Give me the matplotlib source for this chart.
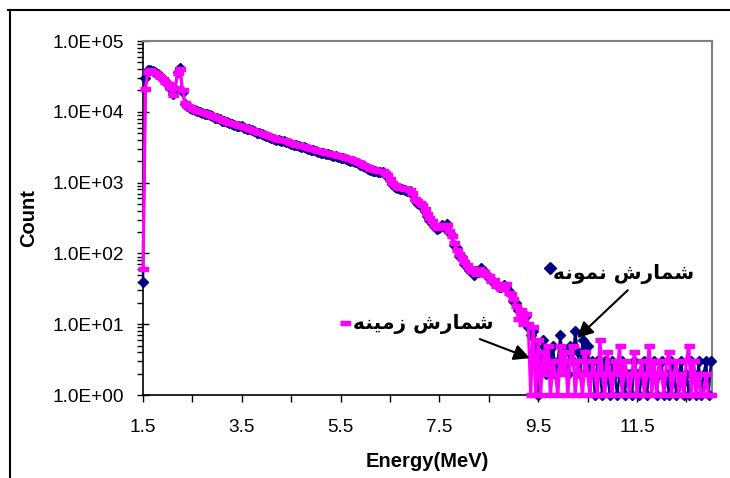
import numpy as np
import matplotlib
matplotlib.use("Agg")
import matplotlib.pyplot as plt
from matplotlib.lines import Line2D
from matplotlib.ticker import FixedLocator, LogLocator, NullFormatter

plt.rcParams['font.family'] = ['Liberation Sans', 'DejaVu Sans']

# channel energies (MeV), 0.05 MeV per channel from 1.5 to 13.0
energy = np.round(np.arange(1.5, 13.001, 0.05), 2)

# sample count (blue diamonds)
sample_count = [
    40, 30000, 39000, 39000, 37500, 36000, 34000, 32000, 29500, 27000,     # 1.50
    25000, 22000, 18000, 21000, 36000, 41000, 19000, 13000, 12000, 11500,  # 2.00
    11000, 10600, 10200, 9900, 9700, 9400, 9200, 8900, 8600, 8300,         # 2.50
    8100, 7800, 7500, 7300, 7100, 6900, 6800, 6600, 6400, 6300,            # 3.00
    6200, 6000, 5800, 5700, 5500, 5300, 5100, 5000, 4850, 4700,            # 3.50
    4550, 4400, 4250, 4100, 4050, 3950, 3900, 3850, 3800, 3650,            # 4.00
    3500, 3450, 3350, 3300, 3200, 3150, 3050, 2950, 2900, 2850,            # 4.50
    2800, 2700, 2650, 2600, 2550, 2500, 2450, 2400, 2350, 2300,            # 5.00
    2250, 2200, 2150, 2100, 2050, 2000, 1950, 1880, 1800, 1720,            # 5.50
    1650, 1580, 1520, 1480, 1440, 1420, 1400, 1390, 1320, 1230,            # 6.00
    1080, 950, 880, 840, 820, 800, 780, 770, 760, 680,                     # 6.50
    560, 520, 490, 460, 400, 340, 300, 270, 240, 220,                      # 7.00
    225, 250, 235, 260, 200, 180, 130, 118, 92, 90,                        # 7.50
    70, 66, 58, 56, 50, 57, 55, 62, 56, 52,                                # 8.00
    45, 44, 38, 37, 33, 34, 36, 34, 29, 27,                                # 8.50
    21, 20, 16, 15, 12, 13, 9, 7, 8, 5,                                    # 9.00
    1, 3, 6, 2, 4, 3, 5, 2, 3, 7,                                          # 9.50
    3, 4, 2, 5, 3, 8, 4, 2, 6, 3,                                          # 10.00
    5, 2, 3, 1, 3, 2, 1, 3, 2, 1,                                          # 10.50
    3, 2, 1, 2, 3, 1, 2, 2, 1, 3,                                          # 11.00
    2, 1, 2, 3, 1, 2, 2, 3, 1, 2,                                          # 11.50
    3, 1, 2, 1, 3, 2, 1, 2, 3, 1,                                          # 12.00
    2, 1, 3, 2, 1, 3, 1, 2, 3, 1,                                          # 12.50
    3,                                                                     # 13.00
]

# background count (magenta)
background_count = [
    60, 21000, 37000, 38500, 37000, 35500, 33500, 31500, 29000, 26500,     # 1.50
    24500, 21500, 17500, 22000, 35000, 40000, 20000, 13500, 12200, 11600,  # 2.00
    11100, 10700, 10300, 10000, 9800, 9500, 9300, 9000, 8700, 8400,        # 2.50
    8200, 7900, 7600, 7400, 7200, 7000, 6900, 6700, 6500, 6400,            # 3.00
    6300, 6100, 5900, 5800, 5600, 5400, 5200, 5100, 4950, 4800,            # 3.50
    4650, 4500, 4350, 4200, 4150, 4050, 4000, 3950, 3900, 3750,            # 4.00
    3600, 3550, 3450, 3400, 3300, 3250, 3150, 3050, 3000, 2950,            # 4.50
    2900, 2800, 2750, 2700, 2650, 2600, 2550, 2500, 2450, 2400,            # 5.00
    2350, 2300, 2250, 2200, 2150, 2100, 2050, 1980, 1900, 1800,            # 5.50
    1720, 1650, 1580, 1540, 1500, 1480, 1460, 1440, 1380, 1280,            # 6.00
    1120, 990, 910, 870, 850, 830, 810, 800, 790, 710,                     # 6.50
    590, 545, 510, 480, 420, 355, 315, 285, 250, 230,                      # 7.00
    235, 240, 255, 250, 210, 175, 140, 112, 98, 86,                        # 7.50
    76, 68, 62, 57, 54, 52, 60, 57, 54, 50,                                # 8.00
    48, 41, 42, 35, 36, 31, 34, 37, 28, 27,                                # 8.50
    23, 18, 12, 16, 10, 14, 10, 1, 9, 1,                                   # 9.00
    6, 1, 4, 2, 5, 1, 3, 2, 1, 5,                                          # 9.50
    2, 4, 1, 3, 5, 1, 3, 2, 1, 4,                                          # 10.00
    2, 1, 3, 2, 1, 6, 2, 1, 4, 2,                                          # 10.50
    1, 3, 2, 5, 1, 3, 2, 1, 2, 4,                                          # 11.00
    1, 2, 3, 1, 2, 5, 1, 3, 1, 3,                                          # 11.50
    2, 1, 3, 4, 1, 2, 3, 1, 2, 1,                                          # 12.00
    3, 5, 1, 3, 1, 2, 1, 1, 2, 1,                                          # 12.50
    1,                                                                     # 13.00
]

x_ticks = [1.5, 3.5, 5.5, 7.5, 9.5, 11.5]
x_minor = [2.5, 4.5, 6.5, 8.5, 10.5, 12.5]
y_ticks = [1, 10, 100, 1000, 10000, 100000]
y_labels = ['1.0E+00', '1.0E+01', '1.0E+02', '1.0E+03', '1.0E+04', '1.0E+05']

sample_label = 'شمارش نمونه'
background_label = 'شمارش زمینه'

# Arabic presentation forms: isolated, final, initial, medial
FORMS = {
    'ش': ('\uFEB5', '\uFEB6', '\uFEB7', '\uFEB8'),
    'م': ('\uFEE1', '\uFEE2', '\uFEE3', '\uFEE4'),
    'ا': ('\uFE8D', '\uFE8E', None, None),
    'ر': ('\uFEAD', '\uFEAE', None, None),
    'ز': ('\uFEAF', '\uFEB0', None, None),
    'و': ('\uFEED', '\uFEEE', None, None),
    'ن': ('\uFEE5', '\uFEE6', '\uFEE7', '\uFEE8'),
    'ه': ('\uFEE9', '\uFEEA', '\uFEEB', '\uFEEC'),
    'ی': ('\uFBFC', '\uFBFD', '\uFEF3', '\uFEF4'),
}


def shape(text):
    """join the letters by hand and flip to visual order (no bidi in matplotlib)"""
    out = []
    for i, ch in enumerate(text):
        if ch not in FORMS:
            out.append(ch)
            continue
        prev = text[i - 1] if i > 0 else None
        nxt = text[i + 1] if i + 1 < len(text) else None
        join_prev = prev in FORMS and FORMS[prev][2] is not None
        join_next = nxt in FORMS and FORMS[ch][2] is not None
        if join_prev and join_next:
            out.append(FORMS[ch][3])
        elif join_prev:
            out.append(FORMS[ch][1])
        elif join_next:
            out.append(FORMS[ch][2])
        else:
            out.append(FORMS[ch][0])
    return ''.join(out)[::-1]


fig = plt.figure(figsize=(7.30, 4.78), dpi=100)
ax = fig.add_axes([143 / 730, 83 / 478, 569 / 730, 354 / 478])

ax.plot(energy, sample_count, color='#000080', lw=1.8, marker='D', ms=5.5,
        mfc='#000080', mec='#000080', clip_on=False, zorder=3)
dash = [(-1, -0.5), (1, -0.5), (1, 0.5), (-1, 0.5)]
ax.plot(energy, background_count, color='#FF00FF', lw=2.3, marker=dash, ms=7,
        mfc='#FF00FF', mec='#FF00FF', clip_on=False, zorder=4)

ax.set_yscale('log')
ax.set_xlim(1.5, 13.02)
ax.set_ylim(1, 1e5)

ax.xaxis.set_major_locator(FixedLocator(x_ticks))
ax.xaxis.set_minor_locator(FixedLocator(x_minor))
ax.set_xticklabels([str(t) for t in x_ticks])
ax.yaxis.set_major_locator(FixedLocator(y_ticks))
ax.set_yticklabels(y_labels)
ax.yaxis.set_minor_locator(LogLocator(base=10, subs=np.arange(2, 10)))
ax.yaxis.set_minor_formatter(NullFormatter())

ax.tick_params(axis='both', which='major', labelsize=13.7, colors='black')
ax.tick_params(axis='x', which='both', direction='out', length=5, width=1, pad=12)
ax.tick_params(axis='y', which='major', direction='inout', length=8, width=1, pad=10)
ax.tick_params(axis='y', which='minor', direction='out', length=4, width=1)

for side in ['top', 'right']:
    ax.spines[side].set_color('#808080')
    ax.spines[side].set_linewidth(1.5)
for side in ['left', 'bottom']:
    ax.spines[side].set_color('black')
    ax.spines[side].set_linewidth(1.2)

ax.set_xlabel('Energy(MeV)', fontsize=14.5, fontweight='bold', labelpad=12)
ax.set_ylabel('Count', fontsize=14.5, fontweight='bold', labelpad=10)

# persian labels with their markers and arrows
ax.text(0.844, 0.341, shape(sample_label), transform=ax.transAxes,
        ha='center', va='center', fontsize=14.5, fontweight='bold',
        family=['DejaVu Sans'])
ax.plot([0.715], [0.358], transform=ax.transAxes, marker='D', ms=6,
        color='#000080', ls='none', clip_on=False)
ax.text(0.492, 0.200, shape(background_label), transform=ax.transAxes,
        ha='center', va='center', fontsize=14.5, fontweight='bold',
        family=['DejaVu Sans'])
ax.plot([0.355], [0.203], transform=ax.transAxes, marker=dash, ms=7,
        color='#FF00FF', ls='none', clip_on=False)

arrow = dict(arrowstyle='-|>', mutation_scale=24, lw=1.5, color='black',
             shrinkA=0, shrinkB=0)
ax.annotate('', xy=(0.763, 0.161), xytext=(0.852, 0.296),
            xycoords='axes fraction', textcoords='axes fraction',
            arrowprops=arrow, zorder=6)
ax.annotate('', xy=(0.680, 0.104), xytext=(0.592, 0.158),
            xycoords='axes fraction', textcoords='axes fraction',
            arrowprops=arrow, zorder=6)

# outer frame (top and left edges of the pasted chart)
fig.add_artist(Line2D([8 / 730, 1.0], [1 - 10 / 478, 1 - 10 / 478],
                      transform=fig.transFigure, color='black', lw=1.5))
fig.add_artist(Line2D([10 / 730, 10 / 730], [0, 1 - 10 / 478],
                      transform=fig.transFigure, color='black', lw=1.5))

fig.savefig('out.png', dpi=100)
